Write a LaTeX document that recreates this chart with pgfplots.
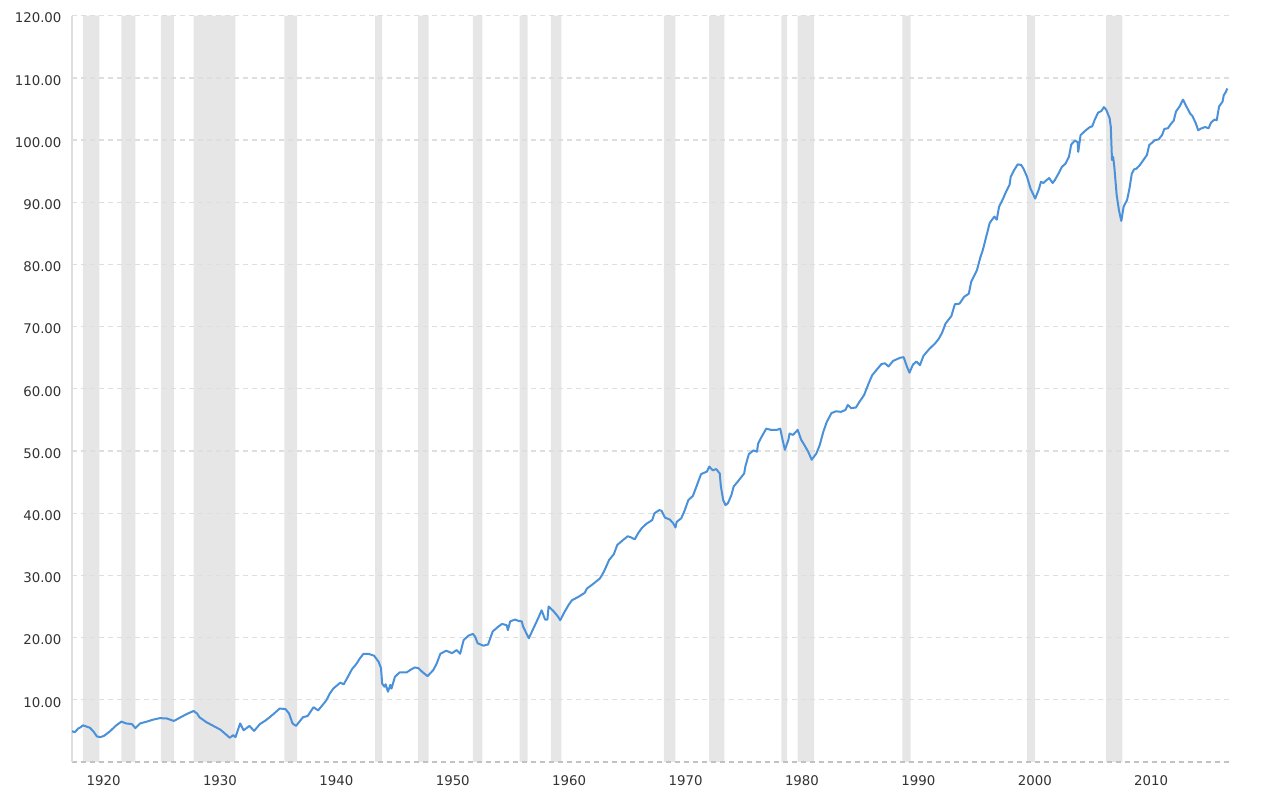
\documentclass[border=0pt]{standalone}
\usepackage{fontspec}
\setmainfont{DejaVu Sans}
\usepackage{pgfplots}
\pgfplotsset{compat=1.18}
\definecolor{linecol}{HTML}{4A91DA}
\definecolor{bandcol}{HTML}{E6E6E6}
\definecolor{gridcol}{HTML}{DEDEDE}
\definecolor{basecol}{HTML}{C2C2C2}
\definecolor{txtcol}{HTML}{333333}
\begin{document}
\begin{tikzpicture}
\begin{axis}[
 name=ax,
 set layers,
 scale only axis,
 width=869.25pt, height=559.7pt,
 xmin=1919.055, xmax=2018.625,
 ymin=0, ymax=120,
 axis lines*=left,
 x axis line style={draw=none},
 y axis line style={draw=gridcol, line width=1pt},
 xtick={1920,1930,...,2010},
 xticklabels={1920,1930,1940,1950,1960,1970,1980,1990,2000,2010},
 ytick={10,20,...,120},
 yticklabels={10.00,20.00,30.00,40.00,50.00,60.00,70.00,80.00,90.00,100.00,110.00,120.00},
 extra y ticks={0},
 extra y tick labels={},
 extra y tick style={ymajorgrids=true, major grid style={draw=basecol, dash pattern=on 3.75pt off 3pt, line width=0.9pt}},
 ymajorgrids,
 major grid style={draw=gridcol, dash pattern=on 3.75pt off 3pt, line width=0.9pt},
 major tick length=0pt,
 xticklabel style={anchor=north west, inner sep=0pt, xshift=2.5pt, yshift=-9.75pt, font=\fontsize{10}{12}\selectfont, text=txtcol},
 yticklabel style={anchor=east, inner sep=0pt, xshift=-7.7pt, yshift=-1.8pt, font=\fontsize{10}{12}\selectfont, text=txtcol},
]
\addplot[on layer=axis background, const plot, fill=bandcol, draw=none] coordinates {
(1919.055,0) (1920.0,120) (1921.4,0) (1923.3,120) (1924.5,0) (1926.7,120) (1927.8,0)
(1929.5,120) (1933.1,0) (1937.3,120) (1938.4,0) (1945.1,120) (1945.7,0)
(1948.8,120) (1949.7,0) (1953.5,120) (1954.3,0) (1957.5,120) (1958.2,0)
(1960.2,120) (1961.1,0) (1969.9,120) (1970.9,0) (1973.8,120) (1975.1,0)
(1980.0,120) (1980.5,0) (1981.4,120) (1982.8,0) (1990.4,120) (1991.1,0)
(2001.1,120) (2001.8,0) (2007.9,120) (2009.3,0) (2018.625,0)
} \closedcycle;
\addplot[linecol, line width=1.5pt, line join=round, mark=none] table {
x y
1919.05 4.95
1919.3 4.8
1919.6 5.4
1919.8 5.6
1920.0 5.9
1920.3 5.7
1920.6 5.5
1920.9 4.9
1921.2 4.1
1921.5 4.0
1921.8 4.2
1922.3 4.9
1922.8 5.8
1923.3 6.5
1923.7 6.2
1924.2 6.1
1924.5 5.45
1924.9 6.2
1925.5 6.5
1926.0 6.8
1926.6 7.05
1927.2 7.0
1927.8 6.6
1928.3 7.1
1928.9 7.7
1929.5 8.2
1929.8 7.8
1930.0 7.2
1930.6 6.4
1931.2 5.8
1931.8 5.2
1932.3 4.4
1932.6 3.9
1932.9 4.3
1933.1 4.0
1933.5 6.2
1933.8 5.1
1934.3 5.8
1934.7 5.0
1935.2 6.1
1935.7 6.7
1936.3 7.6
1936.9 8.6
1937.4 8.5
1937.7 7.8
1938.0 6.2
1938.3 5.8
1938.9 7.2
1939.3 7.4
1939.8 8.8
1940.2 8.3
1940.6 9.2
1940.9 9.9
1941.2 11.0
1941.5 11.8
1942.1 12.75
1942.4 12.5
1942.7 13.5
1943.1 14.9
1943.5 15.8
1943.8 16.7
1944.1 17.4
1944.5 17.4
1945.0 17.1
1945.4 16.1
1945.6 15.1
1945.7 12.6
1945.9 12.1
1946.0 12.5
1946.2 11.3
1946.4 12.4
1946.5 11.8
1946.8 13.7
1947.2 14.4
1947.8 14.4
1948.2 14.9
1948.5 15.2
1948.8 15.1
1949.2 14.4
1949.6 13.8
1950.1 14.8
1950.4 15.9
1950.7 17.4
1951.2 17.9
1951.7 17.5
1952.1 18.0
1952.4 17.4
1952.7 19.6
1953.1 20.3
1953.5 20.6
1953.7 20.1
1953.9 19.1
1954.4 18.7
1954.8 18.9
1955.2 21.0
1955.7 21.8
1956.0 22.2
1956.4 22.0
1956.5 21.2
1956.7 22.6
1957.1 22.9
1957.4 22.7
1957.7 22.6
1957.8 21.8
1958.3 19.9
1958.7 21.5
1959.1 23.1
1959.4 24.4
1959.7 22.9
1959.9 22.9
1960.0 25.0
1960.4 24.3
1960.8 23.4
1961.0 22.8
1961.3 23.9
1961.7 25.2
1962.0 26.0
1962.6 26.6
1963.1 27.2
1963.3 27.9
1963.8 28.6
1964.4 29.5
1964.6 30.1
1964.8 30.8
1965.2 32.5
1965.6 33.4
1965.9 34.9
1966.4 35.7
1966.8 36.3
1967.1 36.1
1967.4 35.8
1967.7 36.8
1968.0 37.6
1968.4 38.3
1968.9 38.9
1969.1 40.0
1969.5 40.5
1969.7 40.4
1970.0 39.3
1970.4 39.0
1970.7 38.4
1970.9 37.7
1971.0 38.6
1971.4 39.2
1971.7 40.5
1972.0 42.1
1972.4 42.8
1972.7 44.3
1973.1 46.3
1973.6 46.7
1973.8 47.5
1974.1 46.9
1974.4 47.1
1974.7 46.4
1974.8 44.3
1975.0 42.1
1975.2 41.3
1975.4 41.6
1975.7 42.9
1975.9 44.3
1976.3 45.2
1976.8 46.4
1976.9 47.5
1977.2 49.5
1977.6 50.1
1977.9 49.9
1978.0 51.2
1978.3 52.3
1978.7 53.6
1979.1 53.4
1979.6 53.4
1979.9 53.6
1980.1 51.8
1980.3 50.2
1980.6 51.8
1980.7 52.8
1981.0 52.6
1981.4 53.4
1981.7 51.8
1981.9 51.2
1982.3 49.9
1982.6 48.6
1983.0 49.6
1983.3 51.0
1983.6 53.1
1983.9 54.7
1984.3 56.1
1984.7 56.4
1985.1 56.3
1985.5 56.6
1985.7 57.4
1986.0 56.9
1986.4 57.0
1986.7 57.9
1987.1 59.0
1987.5 60.9
1987.8 62.2
1988.2 63.1
1988.6 64.0
1988.9 64.1
1989.2 63.6
1989.6 64.5
1990.2 65.0
1990.5 65.1
1990.8 63.5
1991.0 62.6
1991.3 63.9
1991.6 64.4
1991.9 63.8
1992.2 65.3
1992.7 66.4
1993.2 67.3
1993.5 68.0
1993.8 69.0
1994.1 70.5
1994.6 71.7
1994.9 73.6
1995.3 73.7
1995.7 74.8
1996.1 75.3
1996.3 77.2
1996.8 79.1
1997.1 81.2
1997.3 82.3
1997.6 84.5
1997.9 86.7
1998.3 87.7
1998.5 87.2
1998.7 89.3
1999.0 90.4
1999.3 91.7
1999.6 92.8
1999.7 94.1
2000.0 95.2
2000.3 96.1
2000.6 96.0
2000.8 95.4
2001.1 94.1
2001.4 92.2
2001.6 91.4
2001.8 90.6
2002.1 92.0
2002.3 93.3
2002.5 93.1
2002.8 93.6
2003.0 93.9
2003.3 93.1
2003.5 93.6
2003.8 94.6
2004.1 95.7
2004.4 96.2
2004.7 97.3
2004.9 99.3
2005.2 99.9
2005.45 99.7
2005.5 98.1
2005.7 100.8
2006.1 101.5
2006.5 102.1
2006.7 102.2
2006.9 103.2
2007.2 104.4
2007.5 104.7
2007.7 105.3
2007.9 104.9
2008.2 103.5
2008.3 102.1
2008.4 96.8
2008.5 97.3
2008.6 95.7
2008.8 91.2
2009.0 88.7
2009.2 87.0
2009.4 89.3
2009.7 90.4
2009.9 92.2
2010.1 94.6
2010.3 95.3
2010.5 95.4
2010.8 96.0
2011.1 96.8
2011.4 97.6
2011.6 99.2
2012.1 100.0
2012.4 100.1
2012.7 100.8
2012.9 101.8
2013.2 101.9
2013.5 102.7
2013.7 103.1
2013.9 104.6
2014.2 105.4
2014.5 106.5
2014.8 105.4
2015.1 104.3
2015.3 103.9
2015.6 102.7
2015.8 101.6
2016.1 101.9
2016.4 102.1
2016.7 101.9
2016.9 102.8
2017.2 103.3
2017.4 103.2
2017.6 105.4
2017.9 106.2
2018.0 107.2
2018.2 107.8
2018.3 108.3
};
\end{axis}
\pgfresetboundingbox
\path[use as bounding box] ([xshift=-54pt,yshift=-21pt]ax.south west) rectangle ([xshift=36.75pt,yshift=11.8pt]ax.north east);
\end{tikzpicture}
\end{document}
